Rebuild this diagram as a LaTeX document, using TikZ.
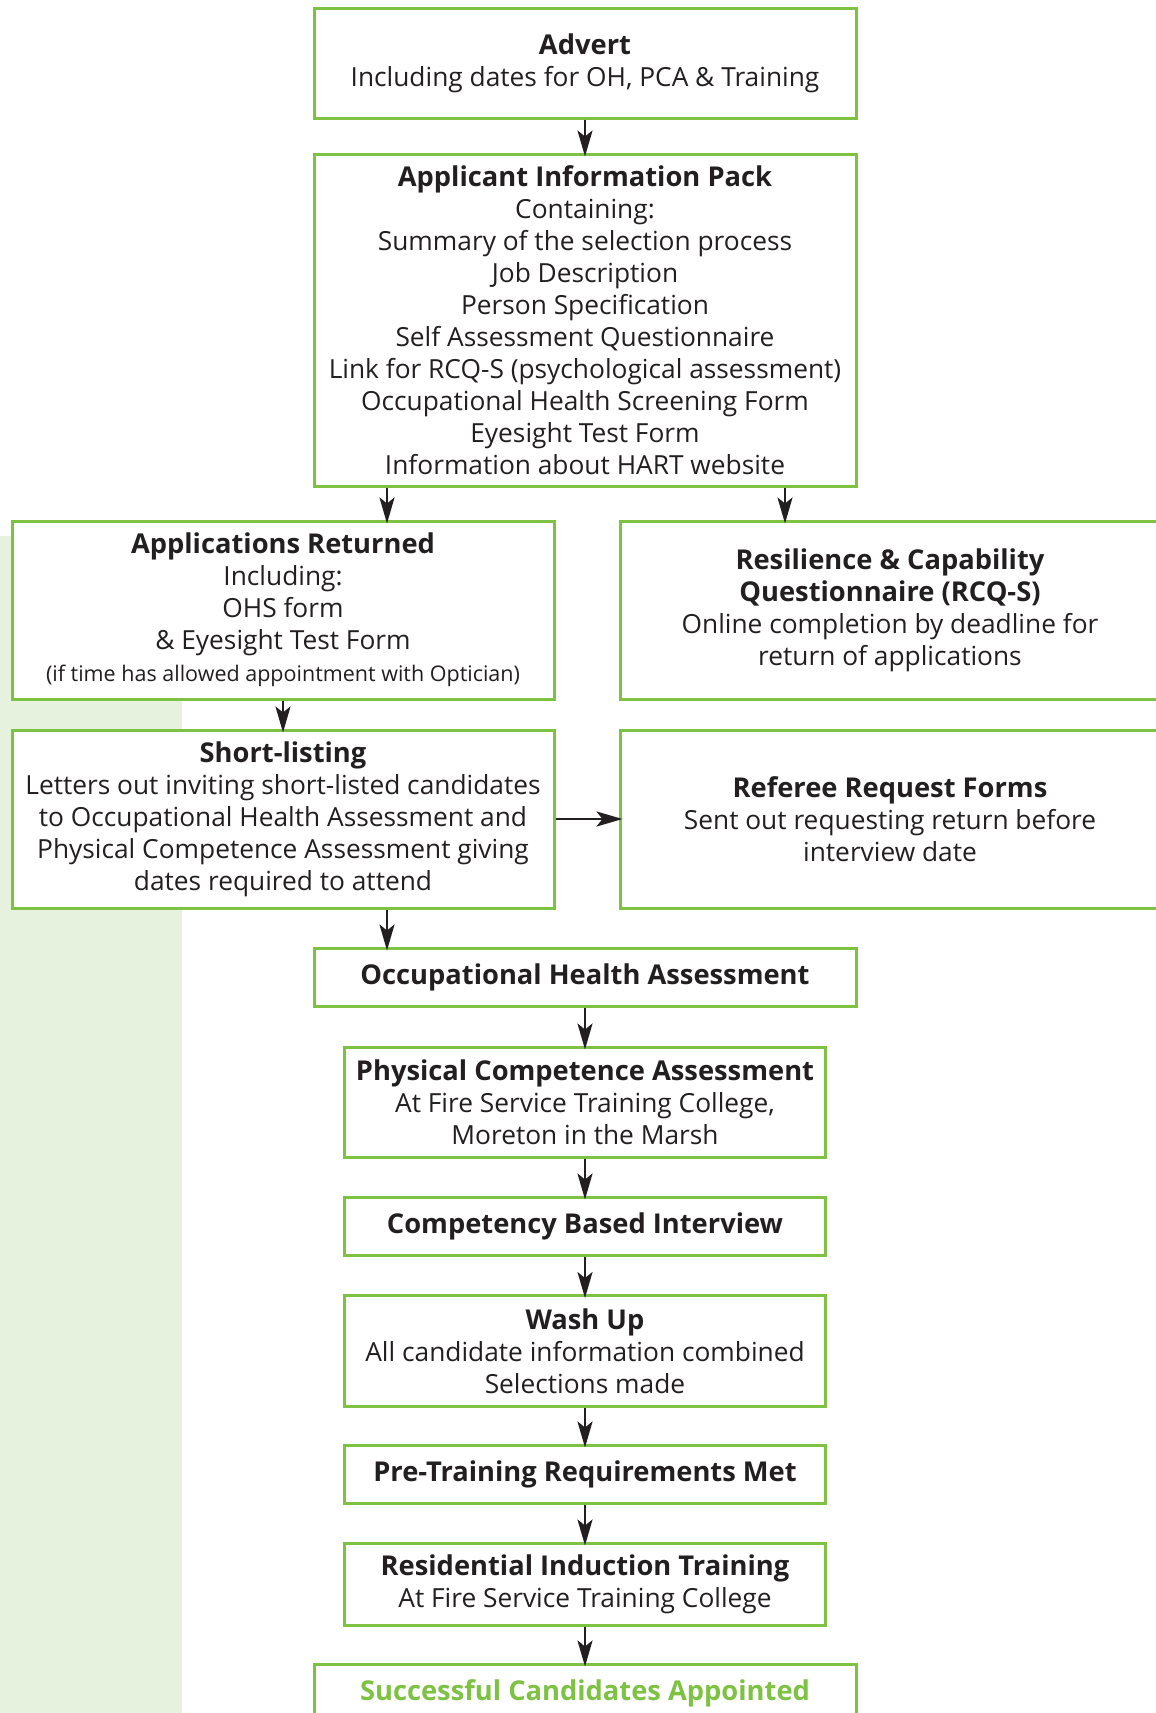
\documentclass[tikz,border=0pt]{standalone}
\usepackage{fontspec}
\setmainfont{Open Sans}
\usepackage{xcolor}
\usetikzlibrary{arrows.meta}
\definecolor{boxgreen}{RGB}{125,194,66}
\definecolor{bandgreen}{RGB}{230,242,221}
\definecolor{inkblack}{RGB}{35,31,32}
\newcommand{\hd}[1]{{\fontsize{27.3}{32}\selectfont\bfseries #1}}

\begin{document}
\begin{tikzpicture}[x=1pt, y=-1pt,
    stage/.style={draw=boxgreen, line width=3pt, fill=white, align=center, inner sep=0pt,
      text=inkblack, font=\fontsize{26.3}{32}\selectfont},
    flow/.style={draw=inkblack, line width=2.5pt, -{Stealth[length=26pt,width=15pt,inset=6pt]}, shorten >=-4pt}]
  \useasboundingbox (0,0) rectangle (1156,1713);
  % background band
  \fill[bandgreen] (0,536) rectangle (182,1713);
  % top of the process
  \node[stage, minimum width=542pt, minimum height=110pt] (advert) at (585,63)
    {\hd{Advert}\\Including dates for OH, PCA \& Training};
  \node[stage, minimum width=542pt, minimum height=332pt] (pack) at (585,320)
    {\hd{Applicant Information Pack}\\Containing:\\Summary of the selection process\\Job Description\\
     Person Specification\\Self Assessment Questionnaire\\Link for RCQ-S (psychological assessment)\\
     Occupational Health Screening Form\\Eyesight Test Form\\Information about HART website};
  % two columns
  \node[stage, minimum width=542pt, minimum height=178pt] (appret) at (283,610)
    {\hd{Applications Returned}\\Including:\\OHS form\\\& Eyesight Test Form\\
     {\fontsize{21.5}{28}\selectfont (if time has allowed appointment with Optician)}};
  \node[stage, minimum width=540pt, minimum height=178pt] (resil) at (890,610)
    {\hd{Resilience \& Capability}\\\hd{Questionnaire (RCQ-S)}\\Online completion by deadline for\\return of applications};
  \node[stage, minimum width=542pt, minimum height=178pt] (short) at (283,819)
    {\hd{Short-listing}\\Letters out inviting short-listed candidates\\to Occupational Health Assessment and\\
     Physical Competence Assessment giving\\dates required to attend};
  \node[stage, minimum width=540pt, minimum height=178pt] (referee) at (890,819)
    {\hd{Referee Request Forms}\\Sent out requesting return before\\interview date};
  % assessments and appointment
  \node[stage, minimum width=542pt, minimum height=58pt] (oha) at (585,977)
    {\hd{Occupational Health Assessment}};
  \node[stage, minimum width=481pt, minimum height=110pt] (pca) at (585,1102)
    {\hd{Physical Competence Assessment}\\At Fire Service Training College,\\Moreton in the Marsh};
  \node[stage, minimum width=481pt, minimum height=58pt] (cbi) at (585,1226)
    {\hd{Competency Based Interview}};
  \node[stage, minimum width=481pt, minimum height=111pt] (washup) at (585,1351)
    {\hd{Wash Up}\\All candidate information combined\\Selections made};
  \node[stage, minimum width=481pt, minimum height=58pt] (pretrain) at (585,1474)
    {\hd{Pre-Training Requirements Met}};
  \node[stage, minimum width=481pt, minimum height=82pt] (induct) at (585,1584)
    {\hd{Residential Induction Training}\\At Fire Service Training College};
  \node[stage, minimum width=542pt, minimum height=58pt, text=boxgreen] (appoint) at (585,1693)
    {\hd{Successful Candidates Appointed}};
  % connectors
  \coordinate (lx) at (387,0);
  \coordinate (rx) at (785,0);
  \draw[flow] (advert) -- (pack);
  \draw[flow] (pack.south -| lx) -- (appret.north -| lx);
  \draw[flow] (pack.south -| rx) -- (resil.north -| rx);
  \draw[flow] (appret) -- (short);
  \draw[flow] (short) -- (referee);
  \draw[flow] (short.south -| lx) -- (oha.north -| lx);
  \draw[flow] (oha) -- (pca);
  \draw[flow] (pca) -- (cbi);
  \draw[flow] (cbi) -- (washup);
  \draw[flow] (washup) -- (pretrain);
  \draw[flow] (pretrain) -- (induct);
  \draw[flow] (induct) -- (appoint);
\end{tikzpicture}
\end{document}
